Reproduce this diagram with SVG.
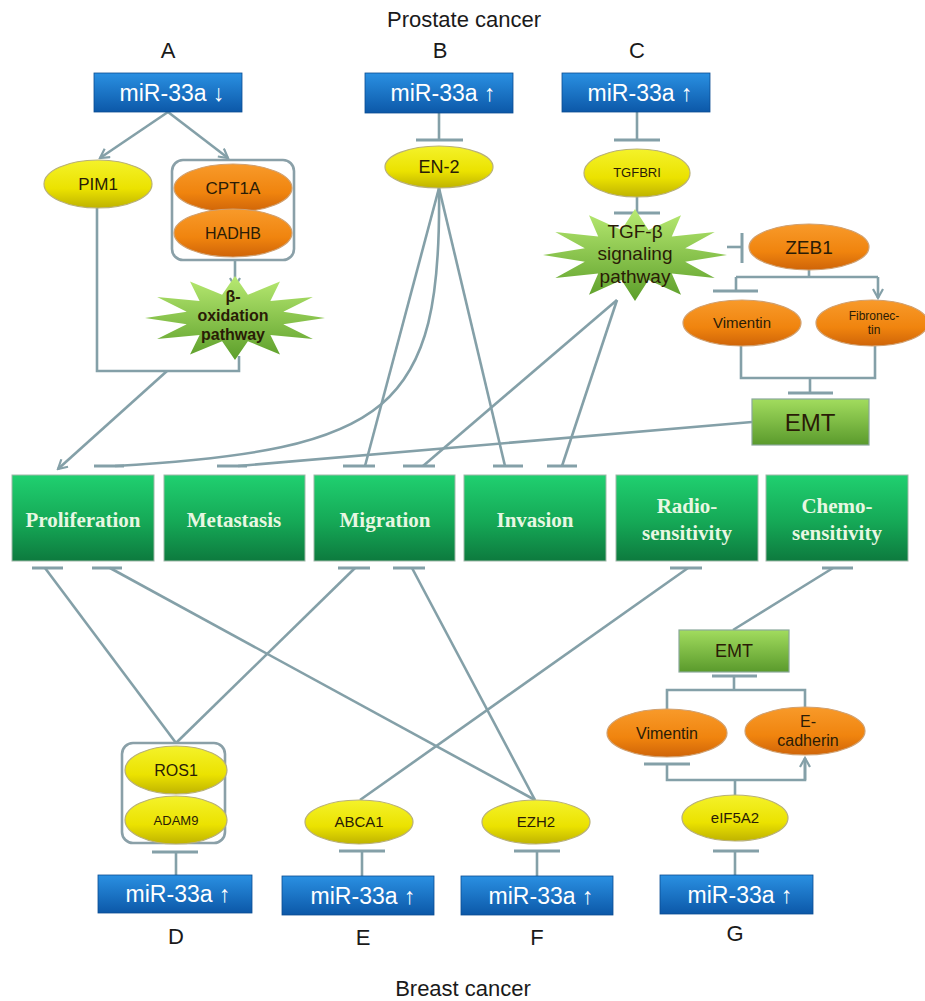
<svg xmlns="http://www.w3.org/2000/svg" width="925" height="1001" viewBox="0 0 925 1001">
<defs>
<linearGradient id="gBlue" x1="0" y1="0" x2="0" y2="1"><stop offset="0" stop-color="#2a90e2"/><stop offset="1" stop-color="#0c58a8"/></linearGradient>
<linearGradient id="gGreen" x1="0" y1="0" x2="0" y2="1"><stop offset="0" stop-color="#20d070"/><stop offset="0.55" stop-color="#15a856"/><stop offset="1" stop-color="#0d7a3e"/></linearGradient>
<linearGradient id="gEmt" x1="0" y1="0" x2="0" y2="1"><stop offset="0" stop-color="#a2dc5e"/><stop offset="1" stop-color="#5a9a2c"/></linearGradient>
<linearGradient id="gYellow" x1="0" y1="0" x2="0" y2="1"><stop offset="0" stop-color="#f4f22a"/><stop offset="0.6" stop-color="#ebe200"/><stop offset="1" stop-color="#bfb300"/></linearGradient>
<linearGradient id="gOrange" x1="0" y1="0" x2="0" y2="1"><stop offset="0" stop-color="#f89a2a"/><stop offset="0.6" stop-color="#f0840e"/><stop offset="1" stop-color="#cf6408"/></linearGradient>
<linearGradient id="gStar" x1="0" y1="0" x2="0" y2="1"><stop offset="0" stop-color="#b8ea72"/><stop offset="1" stop-color="#5c9e2a"/></linearGradient>
<marker id="arr" viewBox="0 0 12 12" refX="10" refY="6" markerWidth="12" markerHeight="12" markerUnits="userSpaceOnUse" orient="auto">
<path d="M1,1 L10,6 L1,11" fill="none" stroke="#84a0a8" stroke-width="2.2"/>
</marker>
<style>
.c{fill:none;stroke:#84a0a8;stroke-width:2.6}
.bar{fill:none;stroke:#84a0a8;stroke-width:3}
.blue{fill:url(#gBlue);stroke:#0a4d92;stroke-width:0.8}
.bt{font-family:"Liberation Sans",Arial,sans-serif;font-size:23px;fill:#ffffff;text-anchor:middle}
.gb{fill:url(#gGreen);stroke:#9fb8a8;stroke-width:1}
.gt{font-family:"Liberation Serif","Times New Roman",serif;font-weight:bold;font-size:21px;fill:#e8f7e2;text-anchor:middle}
.emt{fill:url(#gEmt);stroke:#8aa89a;stroke-width:1.2}
.yl{fill:url(#gYellow);stroke:#b8b078;stroke-width:1.2}
.or{fill:url(#gOrange);stroke:#d0a070;stroke-width:1.2}
.star{fill:url(#gStar);stroke:none}
.grp{fill:none;stroke:#8aa0a8;stroke-width:2.6}
.et{font-family:"Liberation Sans",Arial,sans-serif;fill:#2a1c06;text-anchor:middle}
.lab{font-family:"Liberation Sans",Arial,sans-serif;font-size:22px;fill:#1a1a1a;text-anchor:middle}
</style>
</defs>
<rect width="925" height="1001" fill="#ffffff"/>

<text class="lab" x="464" y="27" font-size="24">Prostate cancer</text>
<text class="lab" x="463" y="996" font-size="23">Breast cancer</text>

<g id="connectors">
<!-- A -->
<path class="c" d="M168,112 L100,158" marker-end="url(#arr)"/>
<path class="c" d="M168,112 L228,158" marker-end="url(#arr)"/>
<path class="c" d="M97,208 V371 H239 V356"/>
<path class="c" d="M235,261 V287" marker-end="url(#arr)"/>
<path class="c" d="M167,371 L58,469" marker-end="url(#arr)"/>
<!-- B -->
<path class="c" d="M439,113 V140"/><path class="bar" d="M416,140 H463"/>
<path class="c" d="M439,188 C442,410 390,450 115,466"/>
<path class="bar" d="M94,466 H124"/>
<path class="c" d="M439,188 L365,466"/><path class="bar" d="M343,466 H375"/>
<path class="c" d="M439,188 L505,466"/><path class="bar" d="M493,466 H523"/>
<!-- C -->
<path class="c" d="M637,112 V140"/><path class="bar" d="M614,140 H660"/>
<path class="c" d="M637,197 V213"/><path class="bar" d="M614,213 H660"/>
<path class="c" d="M617,300 L423,466"/><path class="bar" d="M403,466 H435"/>
<path class="c" d="M617,300 L562,466"/><path class="bar" d="M547,466 H577"/>
<path class="c" d="M727,247 H742"/><path class="bar" d="M742,233 V263"/>
<path class="c" d="M809,270 V277 M736,277 H878 M736,277 V291"/><path class="bar" d="M713,291 H758"/>
<path class="c" d="M878,277 V298" marker-end="url(#arr)"/>
<path class="c" d="M741,346 V378 H875 V346 M810,378 V393"/><path class="bar" d="M788,393 H833"/>
<path class="c" d="M752,422 L238,466"/><path class="bar" d="M217,466 H247"/>
<!-- bottom -->
<path class="bar" d="M32,568 H63 M92,568 H122 M338,568 H370 M393,568 H425 M670,568 H702 M822,568 H853"/>
<path class="c" d="M45,568 L176,743"/>
<path class="c" d="M355,568 L176,743"/>
<path class="c" d="M110,568 L535,800"/>
<path class="c" d="M412,568 L535,800"/>
<path class="c" d="M688,568 L360,800"/>
<path class="c" d="M833,568 L733,630"/>
<!-- D E F -->
<path class="bar" d="M152,852 H198"/><path class="c" d="M176,852 V875"/>
<path class="bar" d="M339,851 H385"/><path class="c" d="M362,851 V876"/>
<path class="bar" d="M514,851 H560"/><path class="c" d="M537,851 V876"/>
<!-- G -->
<path class="bar" d="M712,676 H757"/><path class="c" d="M734,676 V690 M667,709 V690 H805 V707"/>
<path class="bar" d="M644,764 H690"/><path class="c" d="M667,764 V780 H805 V759"/>
<path class="c" d="M805,780 V758" marker-end="url(#arr)"/>
<path class="c" d="M735,780 V795"/>
<path class="bar" d="M713,851 H759"/><path class="c" d="M735,851 V875"/>
</g>

<!-- Top miR boxes -->
<g id="mirA"><rect class="blue" x="94" y="73" width="148" height="39"/><text class="bt" x="172" y="101">miR-33a ↓</text><text class="lab" x="168" y="58">A</text></g>
<g id="mirB"><rect class="blue" x="365" y="73" width="148" height="40"/><text class="bt" x="443" y="101">miR-33a ↑</text><text class="lab" x="440" y="58">B</text></g>
<g id="mirC"><rect class="blue" x="562" y="73" width="148" height="39"/><text class="bt" x="640" y="101">miR-33a ↑</text><text class="lab" x="637" y="58">C</text></g>

<g id="PIM1"><ellipse class="yl" cx="98" cy="184" rx="54" ry="24"/><text class="et" x="98" y="190" font-size="17">PIM1</text></g>
<g id="CPT1A-HADHB"><rect class="grp" x="172" y="160" width="122" height="100" rx="11"/>
<ellipse class="or" cx="233" cy="188" rx="59" ry="24"/><text class="et" x="233" y="194" font-size="17">CPT1A</text>
<ellipse class="or" cx="233" cy="233" rx="59" ry="24"/><text class="et" x="233" y="239" font-size="16">HADHB</text></g>
<g id="beta-oxidation"><polygon class="star" points="325,318 283.3,324.2 312.9,339 270.4,335 280,354.4 247.9,341.2 235,360 222.1,341.2 190,354.4 199.6,335 157.1,339 186.7,324.2 145,318 186.7,311.8 157.1,297 199.6,301 190,281.6 222.1,294.8 235,276 247.9,294.8 280,281.6 270.4,301 312.9,297 283.3,311.8"/>
<text class="et" font-weight="bold" font-size="16" fill="#111"><tspan x="233" y="302">β-</tspan><tspan x="233" y="321">oxidation</tspan><tspan x="233" y="340">pathway</tspan></text></g>

<g id="EN-2"><ellipse class="yl" cx="439" cy="167" rx="54" ry="21"/><text class="et" x="439" y="173" font-size="18">EN-2</text></g>
<g id="TGFBRI"><ellipse class="yl" cx="637" cy="173" rx="53" ry="24"/><text class="et" x="637" y="177" font-size="13">TGFBRI</text></g>
<g id="TGF-beta"><polygon class="star" points="727,255 685.2,261.7 714.7,278 671.8,273.4 681,294.8 648.5,280.1 635,301 621.5,280.1 589,294.8 598.2,273.4 555.3,278 584.8,261.7 543,255 584.8,248.3 555.3,232 598.2,236.6 589,215.2 621.5,229.9 635,209 648.5,229.9 681,215.2 671.8,236.6 714.7,232 685.2,248.3"/>
<text class="et" font-size="19" fill="#111"><tspan x="635" y="238">TGF-β</tspan><tspan x="635" y="260">signaling</tspan><tspan x="635" y="283">pathway</tspan></text></g>
<g id="ZEB1"><ellipse class="or" cx="809" cy="247" rx="60" ry="23"/><text class="et" x="809" y="254" font-size="19">ZEB1</text></g>
<g id="Vimentin-top"><ellipse class="or" cx="742" cy="323" rx="59" ry="23"/><text class="et" x="742" y="328" font-size="15">Vimentin</text></g>
<g id="Fibronectin"><ellipse class="or" cx="872" cy="323" rx="56" ry="23"/><text class="et" font-size="12"><tspan x="874" y="320">Fibronec-</tspan><tspan x="874" y="334">tin</tspan></text></g>
<g id="EMT-top"><rect class="emt" x="752" y="399" width="117" height="46"/><text class="et" x="810" y="431" font-size="24" fill="#111">EMT</text></g>

<!-- Phenotype boxes -->
<g id="Proliferation"><rect class="gb" x="12" y="475" width="142" height="86"/><text class="gt" x="83" y="527">Proliferation</text></g>
<g id="Metastasis"><rect class="gb" x="164" y="475" width="141" height="86"/><text class="gt" x="234" y="527">Metastasis</text></g>
<g id="Migration"><rect class="gb" x="314" y="475" width="141" height="86"/><text class="gt" x="385" y="527">Migration</text></g>
<g id="Invasion"><rect class="gb" x="464" y="475" width="142" height="86"/><text class="gt" x="535" y="527">Invasion</text></g>
<g id="Radiosensitivity"><rect class="gb" x="616" y="475" width="142" height="86"/><text class="gt"><tspan x="687" y="513">Radio-</tspan><tspan x="687" y="540">sensitivity</tspan></text></g>
<g id="Chemosensitivity"><rect class="gb" x="766" y="475" width="142" height="86"/><text class="gt"><tspan x="837" y="513">Chemo-</tspan><tspan x="837" y="540">sensitivity</tspan></text></g>

<!-- Bottom -->
<g id="ROS1-ADAM9"><rect class="grp" x="122" y="743" width="103" height="100" rx="11"/>
<ellipse class="yl" cx="176" cy="770" rx="51" ry="24"/><text class="et" x="176" y="776" font-size="16">ROS1</text>
<ellipse class="yl" cx="176" cy="820" rx="51" ry="24"/><text class="et" x="176" y="825" font-size="13">ADAM9</text></g>
<g id="ABCA1"><ellipse class="yl" cx="359" cy="822" rx="54" ry="22"/><text class="et" x="359" y="827" font-size="15">ABCA1</text></g>
<g id="EZH2"><ellipse class="yl" cx="536" cy="822" rx="54" ry="22"/><text class="et" x="536" y="827" font-size="15">EZH2</text></g>
<g id="EMT-bottom"><rect class="emt" x="679" y="630" width="110" height="42"/><text class="et" x="734" y="657" font-size="18" fill="#111">EMT</text></g>
<g id="Vimentin-bottom"><ellipse class="or" cx="667" cy="733" rx="60" ry="24"/><text class="et" x="667" y="739" font-size="16">Vimentin</text></g>
<g id="E-cadherin"><ellipse class="or" cx="805" cy="731" rx="60" ry="24"/><text class="et" font-size="16"><tspan x="808" y="727">E-</tspan><tspan x="808" y="746">cadherin</tspan></text></g>
<g id="eIF5A2"><ellipse class="yl" cx="735" cy="818" rx="53" ry="23"/><text class="et" x="735" y="823" font-size="15">eIF5A2</text></g>

<g id="mirD"><rect class="blue" x="98" y="875" width="154" height="38"/><text class="bt" x="178" y="902">miR-33a ↑</text><text class="lab" x="176" y="944">D</text></g>
<g id="mirE"><rect class="blue" x="282" y="876" width="152" height="39"/><text class="bt" x="363" y="904">miR-33a ↑</text><text class="lab" x="363" y="945">E</text></g>
<g id="mirF"><rect class="blue" x="461" y="876" width="152" height="39"/><text class="bt" x="541" y="904">miR-33a ↑</text><text class="lab" x="537" y="945">F</text></g>
<g id="mirG"><rect class="blue" x="660" y="875" width="153" height="39"/><text class="bt" x="740" y="903">miR-33a ↑</text><text class="lab" x="735" y="941">G</text></g>
</svg>
